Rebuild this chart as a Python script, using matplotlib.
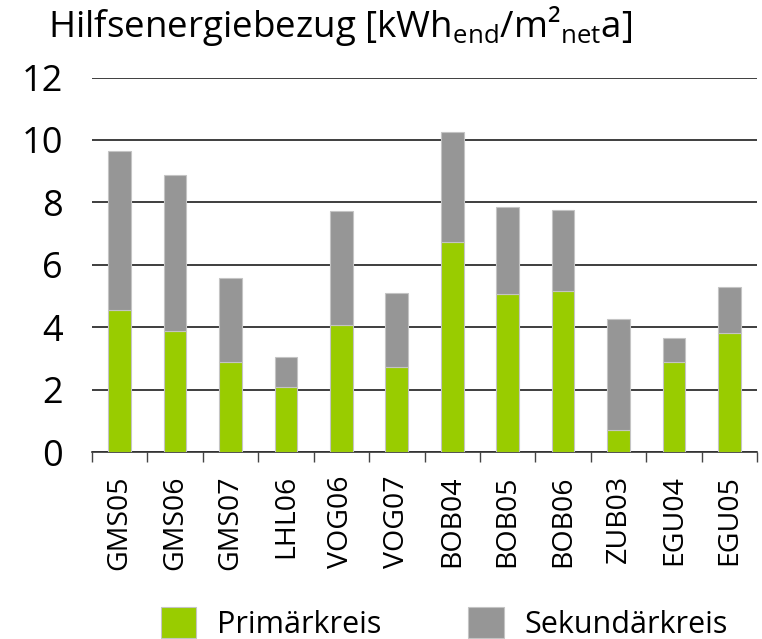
import numpy as np
import matplotlib
matplotlib.use('Agg')
import matplotlib.pyplot as plt

# Data
stations = ['GMS05', 'GMS06', 'GMS07', 'LHL06', 'VOG06', 'VOG07',
            'BOB04', 'BOB05', 'BOB06', 'ZUB03', 'EGU04', 'EGU05']
primaer = [4.57, 3.88, 2.90, 2.08, 4.09, 2.72, 6.74, 5.08, 5.15, 0.71, 2.90, 3.82]
gesamt = [9.64, 8.87, 5.57, 3.04, 7.72, 5.09, 10.26, 7.86, 7.77, 4.26, 3.67, 5.28]
sekundaer = [g - p for g, p in zip(gesamt, primaer)]
y_ticks = [0, 2, 4, 6, 8, 10, 12]

green = '#99cc00'
grey = '#969696'

plt.rcParams['font.family'] = ['Open Sans', 'DejaVu Sans']
plt.rcParams['mathtext.fontset'] = 'custom'
plt.rcParams['mathtext.rm'] = 'Open Sans'

fig = plt.figure(figsize=(7.62, 6.39), dpi=100)
ax = fig.add_axes([0.1207, 0.2922, 0.8729, 0.5865])

x = np.arange(len(stations))
ax.bar(x, primaer, width=0.41, color=green, edgecolor='#c4c4c4',
       linewidth=0.8, label='Primärkreis', zorder=3)
ax.bar(x, sekundaer, width=0.41, bottom=primaer, color=grey,
       edgecolor='#c4c4c4', linewidth=0.8, label='Sekundärkreis', zorder=3)

ax.set_xlim(-0.5, len(stations) - 0.5)
ax.set_ylim(0, 12)
ax.set_yticks(y_ticks)
ax.set_yticklabels([str(v) for v in y_ticks], fontsize=26)
ax.tick_params(axis='y', length=0, pad=21)
ax.yaxis.grid(True, color='#1e1e1e', linewidth=1.2, zorder=0)
ax.set_axisbelow(True)

# ticks between categories, labels at centres
ax.set_xticks(np.arange(-0.5, len(stations)), minor=False)
ax.set_xticklabels([])
ax.set_xticks(x, minor=True)
ax.set_xticklabels(stations, minor=True, rotation=90, fontsize=20.5, va='top')
ax.tick_params(axis='x', which='major', length=7.2, width=1, color='#444444')
ax.tick_params(axis='x', which='minor', length=0, pad=16.5)

for s in ['top', 'right', 'left']:
    ax.spines[s].set_visible(False)
ax.spines['bottom'].set_color('#333333')
ax.spines['bottom'].set_linewidth(1.2)

fig.text(0.063, 0.9416,
         r'Hilfsenergiebezug [kWh$_{\mathrm{end}}$/m²$_{\mathrm{net}}$a]',
         fontsize=26.5, va='baseline', ha='left')

fig.legend(loc='center left', bbox_to_anchor=(161 / 762, 0.024), ncol=2,
           frameon=False, fontsize=22, handlelength=1.15, handleheight=1.15,
           handletextpad=0.69, columnspacing=2.84, borderpad=0,
           borderaxespad=0)

fig.savefig('out.png', dpi=100)
